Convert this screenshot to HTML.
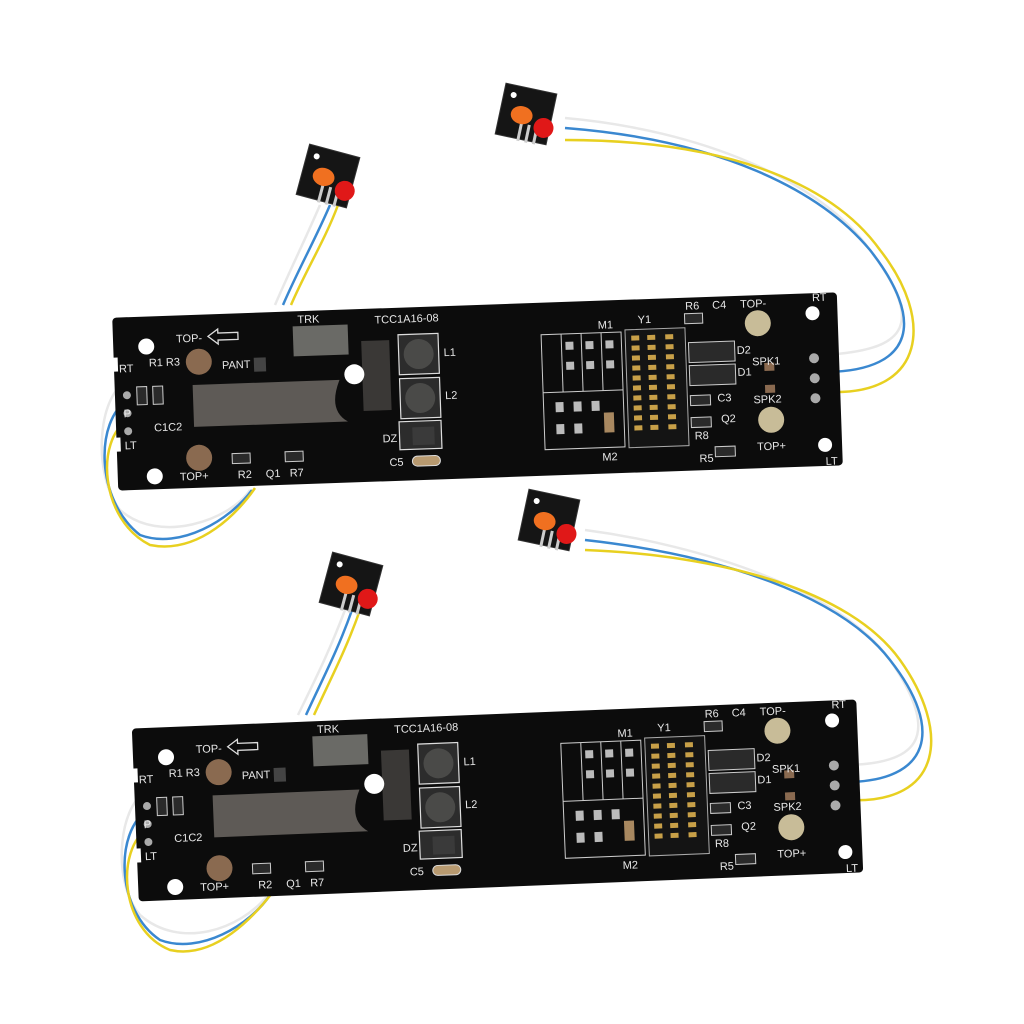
<!DOCTYPE html>
<html><head><style>
html,body{margin:0;padding:0;background:#fff;}
svg{display:block}
text{font-family:"Liberation Sans",sans-serif;fill:#e8e8e8;font-size:11px}
</style></head><body>
<svg width="1024" height="1024" viewBox="0 0 1024 1024">
<defs>
<g id="board">
  <rect x="0" y="0" width="725" height="173" rx="4" fill="#0c0c0c"/>
  <rect x="-2" y="40" width="6" height="14" fill="#fff"/>
  <rect x="-2" y="120" width="6" height="14" fill="#fff"/>
  <circle cx="33" cy="30" r="8" fill="#fff"/>
  <circle cx="37" cy="160" r="8" fill="#fff"/>
  <circle cx="700" cy="20" r="7" fill="#fff"/>
  <circle cx="708" cy="152" r="7" fill="#fff"/>
  <circle cx="85" cy="47" r="13" fill="#8a6a50"/>
  <circle cx="82" cy="143" r="13" fill="#8a6a50"/>
  <circle cx="645" cy="28" r="13" fill="#c8bc98"/>
  <circle cx="655" cy="125" r="13" fill="#c8bc98"/>
  <rect x="180" y="15" width="55" height="30" fill="#6a6a66"/>
  <path d="M78 70 H225 Q212 100 232 112 H78 Z" fill="#5e5a56"/>
  <rect x="248" y="32" width="28" height="70" fill="#3a3836"/>
  <circle cx="240" cy="65" r="10" fill="#fff"/>
  <rect x="140" y="45" width="12" height="14" fill="#444"/>
  <g fill="#2c2c2c" stroke="#ddd" stroke-width="1.2">
    <rect x="285" y="27" width="40" height="40"/>
    <rect x="285" y="71" width="40" height="40"/>
    <rect x="283" y="114" width="42" height="28"/>
  </g>
  <circle cx="305" cy="47" r="15" fill="#4a4a48"/>
  <circle cx="305" cy="91" r="15" fill="#4a4a48"/>
  <rect x="296" y="120" width="22" height="18" fill="#3a3a3a"/>
  <rect x="295" y="149" width="28" height="10" rx="5" fill="#b89a70" stroke="#ddd"/>
  <g stroke="#ccc" fill="none" stroke-width="1">
    <rect x="428" y="32" width="80" height="115"/>
    <line x1="428" y1="90" x2="508" y2="90"/>
    <line x1="448" y1="32" x2="448" y2="90"/>
    <line x1="468" y1="32" x2="468" y2="90"/>
    <line x1="488" y1="32" x2="488" y2="90"/>
  </g>
  <g fill="#bbb">
    <rect x="452" y="40" width="8" height="8"/><rect x="472" y="40" width="8" height="8"/><rect x="492" y="40" width="8" height="8"/>
    <rect x="452" y="60" width="8" height="8"/><rect x="472" y="60" width="8" height="8"/><rect x="492" y="60" width="8" height="8"/>
    <rect x="440" y="100" width="8" height="10"/><rect x="458" y="100" width="8" height="10"/><rect x="476" y="100" width="8" height="10"/>
    <rect x="440" y="122" width="8" height="10"/><rect x="458" y="122" width="8" height="10"/>
  </g>
  <rect x="488" y="112" width="10" height="20" fill="#a88860"/>
  <rect x="512" y="30" width="60" height="118" fill="#141414" stroke="#aaa"/>
  <g fill="#c8a048">
    <rect x="518" y="36" width="8" height="5"/><rect x="534" y="36" width="8" height="5"/><rect x="552" y="36" width="8" height="5"/>
    <rect x="518" y="46" width="8" height="5"/><rect x="534" y="46" width="8" height="5"/><rect x="552" y="46" width="8" height="5"/>
    <rect x="518" y="56" width="8" height="5"/><rect x="534" y="56" width="8" height="5"/><rect x="552" y="56" width="8" height="5"/>
    <rect x="518" y="66" width="8" height="5"/><rect x="534" y="66" width="8" height="5"/><rect x="552" y="66" width="8" height="5"/>
    <rect x="518" y="76" width="8" height="5"/><rect x="534" y="76" width="8" height="5"/><rect x="552" y="76" width="8" height="5"/>
    <rect x="518" y="86" width="8" height="5"/><rect x="534" y="86" width="8" height="5"/><rect x="552" y="86" width="8" height="5"/>
    <rect x="518" y="96" width="8" height="5"/><rect x="534" y="96" width="8" height="5"/><rect x="552" y="96" width="8" height="5"/>
    <rect x="518" y="106" width="8" height="5"/><rect x="534" y="106" width="8" height="5"/><rect x="552" y="106" width="8" height="5"/>
    <rect x="518" y="116" width="8" height="5"/><rect x="534" y="116" width="8" height="5"/><rect x="552" y="116" width="8" height="5"/>
    <rect x="518" y="126" width="8" height="5"/><rect x="534" y="126" width="8" height="5"/><rect x="552" y="126" width="8" height="5"/>
  </g>
  <g fill="#2a2a2a" stroke="#ccc">
    <rect x="575" y="45" width="46" height="20"/>
    <rect x="575" y="68" width="46" height="20"/>
    <rect x="572" y="16" width="18" height="10"/>
    <rect x="575" y="98" width="20" height="10"/>
    <rect x="575" y="120" width="20" height="10"/>
    <rect x="598" y="150" width="20" height="10"/>
    <rect x="22" y="70" width="10" height="18"/><rect x="38" y="70" width="10" height="18"/>
    <rect x="115" y="140" width="18" height="10"/><rect x="168" y="140" width="18" height="10"/>
  </g>
  <rect x="650" y="68" width="10" height="8" fill="#8a6a50"/>
  <rect x="650" y="90" width="10" height="8" fill="#8a6a50"/>
  <g fill="#aaa">
    <circle cx="700" cy="65" r="5"/><circle cx="700" cy="85" r="5"/><circle cx="700" cy="105" r="5"/>
    <circle cx="12" cy="78" r="4"/><circle cx="12" cy="96" r="4"/><circle cx="12" cy="114" r="4"/>
  </g>
  <path d="M95 22 l10 -7 v4 h20 v7 h-20 v4 z" fill="none" stroke="#ddd" stroke-width="1.3"/>
  <text x="185" y="12">TRK</text>
  <text x="262" y="15">TCC1A16-08</text>
  <text x="63" y="27">TOP-</text>
  <text x="108" y="55">PANT</text>
  <text x="5" y="55" font-size="10">RT</text>
  <text x="35" y="50" font-size="10">R1 R3</text>
  <text x="8" y="100" font-size="10">P</text>
  <text x="38" y="115" font-size="10">C1C2</text>
  <text x="8" y="132" font-size="10">LT</text>
  <text x="62" y="165">TOP+</text>
  <text x="120" y="165">R2</text><text x="148" y="165">Q1</text><text x="172" y="165">R7</text>
  <text x="330" y="50">L1</text><text x="330" y="93">L2</text>
  <text x="266" y="134">DZ</text><text x="272" y="158">C5</text>
  <text x="485" y="28">M1</text><text x="525" y="24" font-size="8">Y1</text>
  <text x="485" y="160">M2</text>
  <text x="573" y="12">R6</text><text x="600" y="12">C4</text>
  <text x="628" y="12">TOP-</text><text x="700" y="8" font-size="10">RT</text>
  <text x="623" y="58">D2</text><text x="623" y="80">D1</text>
  <text x="638" y="70">SPK1</text><text x="638" y="108">SPK2</text>
  <text x="602" y="105">C3</text><text x="605" y="126">Q2</text>
  <text x="578" y="142">R8</text><text x="582" y="165">R5</text>
  <text x="640" y="155">TOP+</text><text x="708" y="172" font-size="10">LT</text>
</g>
<g id="led">
  <rect x="0" y="0" width="52" height="52" fill="#151515" stroke="#333"/>
  <rect x="22" y="36" width="3" height="18" fill="#ccc"/><rect x="30" y="36" width="3" height="18" fill="#ccc"/><rect x="38" y="36" width="3" height="18" fill="#ccc"/>
  <ellipse cx="22" cy="28" rx="11" ry="9" fill="#f07020"/>
  <ellipse cx="46" cy="36" rx="10" ry="10" fill="#e01818"/>
  <circle cx="10" cy="10" r="3" fill="#fff"/>
</g>
</defs>

<!-- wires board 1 -->
<g fill="none" stroke-width="2.5">
  <path d="M825 355 C900 350 930 330 870 250 C820 180 700 130 565 118" stroke="#e8e8e8"/>
  <path d="M828 372 C915 370 925 320 870 250 C820 190 720 140 565 128" stroke="#3a88d0"/>
  <path d="M830 392 C925 395 935 320 880 250 C830 180 720 140 565 140" stroke="#e8d020"/>
  <path d="M128 382 C100 390 90 470 120 510 C160 545 230 520 250 490" stroke="#e8e8e8"/>
  <path d="M128 400 C95 420 95 500 140 535 C180 550 230 520 252 490" stroke="#3a88d0"/>
  <path d="M128 420 C95 440 100 520 150 545 C200 555 240 510 255 488" stroke="#e8d020"/>
  <path d="M275 305 C290 270 305 240 320 205" stroke="#e8e8e8"/>
  <path d="M283 305 C298 270 315 240 330 205" stroke="#3a88d0"/>
  <path d="M291 305 C306 270 325 240 338 205" stroke="#e8d020"/>
</g>
<!-- wires board 2 -->
<g fill="none" stroke-width="2.5">
  <path d="M842 765 C915 765 945 740 890 660 C840 590 700 545 585 530" stroke="#e8e8e8"/>
  <path d="M845 782 C930 782 945 730 890 660 C840 595 720 555 585 540" stroke="#3a88d0"/>
  <path d="M847 800 C945 805 950 730 900 660 C850 590 720 555 585 550" stroke="#e8d020"/>
  <path d="M148 792 C120 800 110 880 140 915 C180 950 240 930 268 895" stroke="#e8e8e8"/>
  <path d="M148 810 C115 830 115 910 160 940 C200 955 250 925 270 895" stroke="#3a88d0"/>
  <path d="M148 828 C115 850 120 930 170 950 C215 960 255 915 272 893" stroke="#e8d020"/>
  <path d="M298 715 C315 680 330 650 345 610" stroke="#e8e8e8"/>
  <path d="M306 715 C322 680 338 650 352 610" stroke="#3a88d0"/>
  <path d="M314 715 C330 680 346 650 360 610" stroke="#e8d020"/>
</g>

<use href="#board" transform="rotate(-2 478 391) translate(115 305)"/>
<use href="#board" transform="rotate(-2.3 497 800) translate(135 714)"/>

<use href="#led" transform="translate(302 150) rotate(15 26 26)"/>
<use href="#led" transform="translate(500 88) rotate(12 26 26)"/>
<use href="#led" transform="translate(325 558) rotate(15 26 26)"/>
<use href="#led" transform="translate(523 494) rotate(12 26 26)"/>
</svg>
</body></html>
